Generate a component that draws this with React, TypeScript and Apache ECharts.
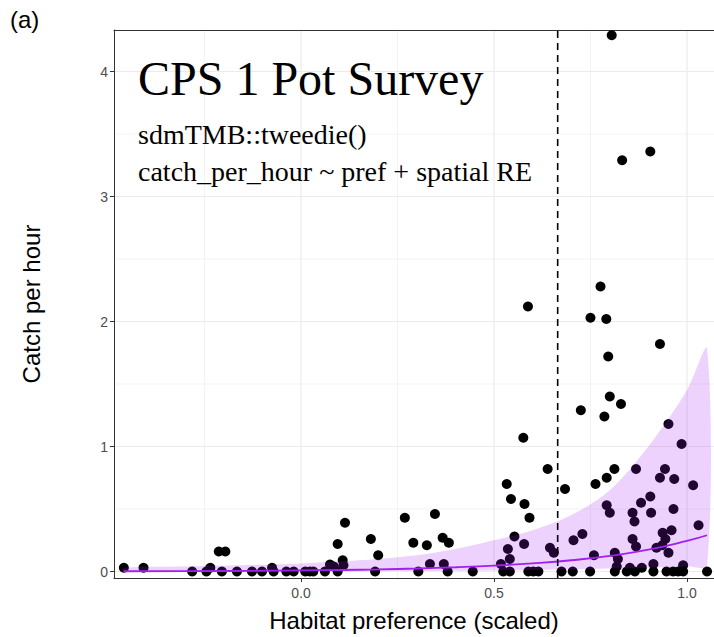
import { useEffect, useRef } from "react";
import * as echarts from "echarts";

// Survey hauls: [habitat preference (scaled), catch per hour]
const surveyPoints: [number, number][] = [
  [-0.459, 0.03], [-0.408, 0.03], [-0.282, 0], [-0.245, 0], [-0.235, 0.03],
  [-0.213, 0.16], [-0.196, 0.16], [-0.205, 0], [-0.166, 0], [-0.127, 0],
  [-0.101, 0], [-0.075, 0.03], [-0.071, 0], [-0.038, 0], [-0.019, 0],
  [0.011, 0], [0.023, 0], [0.032, 0], [0.062, 0], [0.095, 0],
  [0.075, 0.056], [0.085, 0.04], [0.11, 0.05], [0.108, 0.09], [0.095, 0.22],
  [0.114, 0.39], [0.181, 0.26], [0.2, 0.13], [0.192, 0], [0.269, 0.43],
  [0.291, 0.23], [0.326, 0.21], [0.347, 0.46], [0.367, 0.27], [0.383, 0.23],
  [0.334, 0.06], [0.37, 0.06], [0.304, 0], [0.38, 0], [0.445, 0],
  [0.518, 0.06], [0.524, 0], [0.541, 0], [0.536, 0.18], [0.541, 0.1],
  [0.553, 0.28], [0.533, 0.7], [0.544, 0.58], [0.576, 1.07], [0.588, 2.12],
  [0.579, 0.54], [0.592, 0.43], [0.578, 0.22], [0.589, 0], [0.602, 0],
  [0.615, 0], [0.639, 0.82], [0.645, 0.19], [0.655, 0.15], [0.675, 0],
  [0.684, 0.66], [0.704, 0], [0.706, 0.25], [0.729, 0.3], [0.725, 1.29],
  [0.749, 0], [0.75, 2.03], [0.759, 0.13], [0.763, 0.7], [0.776, 2.28],
  [0.786, 1.24], [0.791, 2.02], [0.792, 0.75], [0.792, 0.53], [0.796, 1.72],
  [0.8, 1.4], [0.8, 0.47], [0.805, 4.29], [0.812, 0.82], [0.813, 0.15],
  [0.813, 0], [0.818, 0.04], [0.821, 0.1], [0.829, 1.34], [0.832, 3.29],
  [0.844, 0], [0.852, 0.03], [0.859, 0.47], [0.859, 0.26], [0.864, 0.4],
  [0.865, 0], [0.868, 0.82], [0.868, 0.2], [0.881, 0.55], [0.883, 0.03],
  [0.905, 3.36], [0.905, 0.6], [0.907, 0.47], [0.913, 0.06], [0.913, 0],
  [0.921, 0.19], [0.93, 1.82], [0.93, 0.75], [0.936, 0.21], [0.937, 0.31],
  [0.943, 0.82], [0.944, 0.26], [0.947, 0], [0.952, 1.18], [0.952, 0.15],
  [0.96, 0.33], [0.964, 0], [0.965, 0.5], [0.967, 0.74], [0.977, 0],
  [0.986, 1.02], [0.99, 0.05], [0.99, 0], [1.016, 0.69], [1.03, 0.37],
  [1.052, 0],
];

// Fitted tweedie mean with its 95% band
const fitX = [-0.46, -0.3, -0.1, 0.0, 0.1, 0.2, 0.3, 0.4, 0.5, 0.6, 0.7, 0.8, 0.9, 1.0, 1.052];
const fitMean = [0.002, 0.003, 0.006, 0.009, 0.012, 0.017, 0.024, 0.034, 0.047, 0.065, 0.09, 0.125, 0.175, 0.245, 0.29];
const fitUpper = [0.03, 0.04, 0.055, 0.065, 0.08, 0.1, 0.13, 0.18, 0.25, 0.33, 0.45, 0.65, 1.0, 1.45, 1.78];
const fitLower = [0, 0, 0.001, 0.001, 0.002, 0.003, 0.004, 0.006, 0.009, 0.013, 0.018, 0.024, 0.031, 0.041, 0.047];

const thresholdX = 0.665;

const xMajor = [0, 0.5, 1.0];
const xMinor = [-0.25, 0.25, 0.75];
const yMajor = [0, 1, 2, 3, 4];
const yMinor = [0.5, 1.5, 2.5, 3.5];

const X_MIN = -0.4845;
const X_MAX = 1.07;
const Y_MIN = -0.052;
const Y_MAX = 4.332;

const titleText = "CPS 1 Pot Survey";
const familyText = "sdmTMB::tweedie()";
const formulaText = "catch_per_hour ~ pref + spatial RE";

const SANS = "Liberation Sans, Arial, sans-serif";
const SERIF = "Liberation Serif, Times New Roman, serif";
const GRID_COLOR = "#EBEBEB";
const BORDER = "#333333";

export default function App() {
  const ref = useRef<HTMLDivElement>(null);

  useEffect(() => {
    if (!ref.current) return;
    const chart = echarts.init(ref.current, undefined, { renderer: "svg" });

    const gridLines = (values: number[], vertical: boolean, width: number) => ({
      type: "custom",
      silent: true,
      z: 0,
      clip: true,
      data: values.map((v) => [v]),
      renderItem: (_params: any, api: any) => {
        const v = api.value(0);
        const p1 = vertical ? api.coord([v, Y_MIN]) : api.coord([X_MIN, v]);
        const p2 = vertical ? api.coord([v, Y_MAX]) : api.coord([X_MAX, v]);
        return {
          type: "line",
          shape: { x1: p1[0], y1: p1[1], x2: p2[0], y2: p2[1] },
          style: { stroke: GRID_COLOR, lineWidth: width },
        };
      },
    });

    const option: any = {
      animation: false,
      backgroundColor: "#ffffff",
      grid: { left: 114, right: 0, top: 30, bottom: 59, containLabel: false },
      xAxis: [
        {
          type: "value",
          min: X_MIN,
          max: X_MAX,
          position: "bottom",
          axisLine: { show: true, onZero: false, lineStyle: { color: BORDER, width: 1 } },
          axisTick: {
            show: true,
            length: 4,
            customValues: xMajor,
            lineStyle: { color: BORDER, width: 1 },
          },
          axisLabel: {
            show: true,
            customValues: xMajor,
            formatter: (v: number) => v.toFixed(1),
            color: "#4D4D4D",
            fontSize: 14,
            fontFamily: SANS,
            margin: 8,
          },
          splitLine: { show: false },
          minorSplitLine: { show: false },
        },
        {
          type: "value",
          min: X_MIN,
          max: X_MAX,
          position: "top",
          axisLine: { show: true, onZero: false, lineStyle: { color: BORDER, width: 1 } },
          axisTick: { show: false },
          axisLabel: { show: false },
          splitLine: { show: false },
        },
      ],
      yAxis: {
        type: "value",
        min: Y_MIN,
        max: Y_MAX,
        axisLine: { show: true, onZero: false, lineStyle: { color: BORDER, width: 1 } },
        axisTick: {
          show: true,
          length: 4,
          customValues: yMajor,
          lineStyle: { color: BORDER, width: 1 },
        },
        axisLabel: {
          show: true,
          customValues: yMajor,
          formatter: (v: number) => String(Math.round(v)),
          color: "#4D4D4D",
          fontSize: 14,
          fontFamily: SANS,
          margin: 6,
        },
        splitLine: { show: false },
      },
      graphic: [
        {
          type: "text",
          left: 10,
          top: 7,
          style: { text: "(a)", font: `24px ${SANS}`, fill: "#000" },
        },
        {
          type: "text",
          x: 31,
          y: 304,
          rotation: Math.PI / 2,
          style: {
            text: "Catch per hour",
            font: `24px ${SANS}`,
            fill: "#000",
            textAlign: "center",
            textVerticalAlign: "middle",
          },
        },
        {
          type: "text",
          x: 414,
          y: 620,
          style: {
            text: "Habitat preference (scaled)",
            font: `24px ${SANS}`,
            fill: "#000",
            textAlign: "center",
            textVerticalAlign: "middle",
          },
        },
        {
          type: "text",
          x: 138,
          y: 102,
          z: 10,
          style: {
            text: titleText,
            font: `48px ${SERIF}`,
            fill: "#000",
            textAlign: "left",
            textVerticalAlign: "bottom",
          },
        },
        {
          type: "text",
          x: 138,
          y: 148,
          z: 10,
          style: {
            text: familyText,
            font: `28px ${SERIF}`,
            fill: "#000",
            textAlign: "left",
            textVerticalAlign: "bottom",
          },
        },
        {
          type: "text",
          x: 138,
          y: 185,
          z: 10,
          style: {
            text: formulaText,
            font: `28px ${SERIF}`,
            fill: "#000",
            textAlign: "left",
            textVerticalAlign: "bottom",
          },
        },
      ],
      series: [
        gridLines(xMinor, true, 0.6),
        gridLines(yMinor, false, 0.6),
        gridLines(xMajor, true, 1.2),
        gridLines(yMajor, false, 1.2),
        {
          type: "scatter",
          z: 2,
          data: surveyPoints,
          symbol: "circle",
          symbolSize: 10,
          itemStyle: { color: "#000000", opacity: 1 },
          silent: true,
        },
        {
          type: "custom",
          z: 3,
          silent: true,
          data: [0],
          renderItem: (_params: any, api: any) => {
            const upper = fitX.map((x, i) => api.coord([x, fitUpper[i]]));
            const lower = fitX.map((x, i) => api.coord([x, fitLower[i]])).reverse();
            return {
              type: "polygon",
              shape: { points: upper.concat(lower), smooth: 0.3 },
              style: { fill: "rgba(160,32,240,0.2)", stroke: "none" },
            };
          },
        },
        {
          type: "line",
          z: 4,
          data: fitX.map((x, i) => [x, fitMean[i]]),
          smooth: true,
          showSymbol: false,
          symbol: "none",
          lineStyle: { color: "#A020F0", width: 1.8 },
          silent: true,
        },
        {
          type: "line",
          z: 5,
          data: [
            [thresholdX, Y_MIN],
            [thresholdX, Y_MAX],
          ],
          showSymbol: false,
          symbol: "none",
          lineStyle: { color: "#000000", width: 1.6, type: [7, 5] },
          silent: true,
        },
      ],
    };

    chart.setOption(option);
    return () => chart.dispose();
  }, []);

  return <div ref={ref} style={{ width: 714, height: 637, position: "absolute", left: 0, top: 0 }} />;
}
